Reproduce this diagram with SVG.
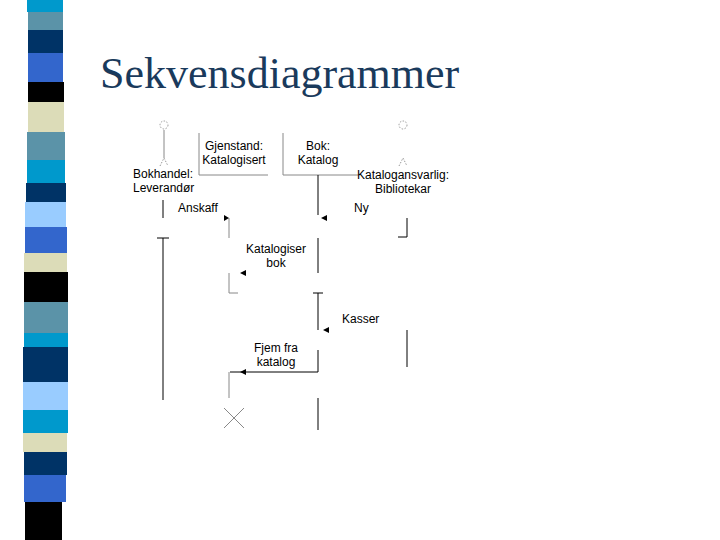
<svg xmlns="http://www.w3.org/2000/svg" width="720" height="540" viewBox="0 0 720 540">
<style>
.t{font-family:"Liberation Sans",Arial,sans-serif;font-size:12px;fill:#000}
.c{text-anchor:middle}
.l{stroke:#000;stroke-width:1;fill:none}
.g{stroke:#888;stroke-width:1;fill:none}
.d{stroke:#999;stroke-width:1;fill:none;stroke-dasharray:1.5 1.5}
</style>
<rect width="720" height="540" fill="#fff"/>
<g id="stripes">
<rect x="27" y="0" width="36" height="12" fill="#0099cc"/>
<rect x="28" y="12" width="35" height="18" fill="#5b93a8"/>
<rect x="28" y="30" width="35" height="23" fill="#003366"/>
<rect x="28" y="53" width="35" height="29" fill="#3366cc"/>
<rect x="28" y="82" width="36" height="20" fill="#000"/>
<rect x="28" y="102" width="36" height="30" fill="#dcdcb8"/>
<rect x="27" y="132" width="38" height="28" fill="#5b93a8"/>
<rect x="27" y="160" width="38" height="23" fill="#0099cc"/>
<rect x="26" y="183" width="40" height="19" fill="#003366"/>
<rect x="25" y="202" width="41" height="25" fill="#99ccff"/>
<rect x="25" y="227" width="42" height="26" fill="#3366cc"/>
<rect x="24" y="253" width="43" height="19" fill="#dcdcb8"/>
<rect x="24" y="272" width="44" height="30" fill="#000"/>
<rect x="24" y="302" width="44" height="31" fill="#5b93a8"/>
<rect x="24" y="333" width="44" height="14" fill="#0099cc"/>
<rect x="23" y="347" width="45" height="35" fill="#003366"/>
<rect x="23" y="382" width="45" height="28" fill="#99ccff"/>
<rect x="23" y="410" width="45" height="23" fill="#0099cc"/>
<rect x="23" y="433" width="44" height="19" fill="#dcdcb8"/>
<rect x="24" y="452" width="43" height="23" fill="#003366"/>
<rect x="24" y="475" width="42" height="27" fill="#3366cc"/>
<rect x="25" y="502" width="37" height="38" fill="#000"/>
</g>
<text x="100" y="88" font-family="Liberation Serif,serif" font-size="44" fill="#1a3a5c">Sekvensdiagrammer</text>
<g id="bokhandel">
<circle cx="164" cy="125" r="4" class="d"/>
<line x1="164" y1="130" x2="164" y2="158" class="g"/>
<path d="M160,166L164,158L168,166" class="d"/>
<text class="t" x="133" y="178">Bokhandel:</text>
<text class="t" x="133" y="192">Leverandør</text>
</g>
<g id="gjenstand">
<path d="M199,133V175H268" class="g"/>
<text class="t c" x="234" y="150">Gjenstand:</text>
<text class="t c" x="234" y="164">Katalogisert</text>
</g>
<g id="bok">
<path d="M283,133V175H358" class="g"/>
<text class="t c" x="318" y="150">Bok:</text>
<text class="t c" x="318" y="164">Katalog</text>
</g>
<g id="katalogansvarlig">
<circle cx="403" cy="125" r="4" class="d"/>
<path d="M399,166L403,158L407,166" class="d"/>
<text class="t c" x="403" y="179">Katalogansvarlig:</text>
<text class="t c" x="403" y="193">Bibliotekar</text>
</g>
<g id="connectors">
<line x1="163" y1="200" x2="163" y2="218" class="l"/>
<path d="M157,238H169M163,238V400" class="l"/>
<path d="M229,218V238" class="g"/>
<path d="M224,215L229,218L224,221z" fill="#000"/>
<path d="M318,175V215" class="l"/>
<path d="M327,215L321,218L327,221z" fill="#000"/>
<path d="M407,218V237H398" class="l"/>
<path d="M318,238V273" class="l"/>
<path d="M246,270L240,273L246,276z" fill="#000"/>
<path d="M229,273V293H238" class="g"/>
<path d="M313,293H323M318,293V330" class="l"/>
<path d="M329,327L323,330L329,333z" fill="#000"/>
<path d="M407,330V367" class="l"/>
<path d="M318,350V372H230" class="l"/>
<path d="M246,369L240,372L246,375z" fill="#000"/>
<path d="M229,372V398" class="g"/>
<path d="M318,398V430" class="l"/>
<path d="M224,408L244,428M244,408L224,428" class="g"/>
</g>
<g id="labels">
<text class="t" x="178" y="212">Anskaff</text>
<text class="t" x="354" y="212">Ny</text>
<text class="t c" x="276" y="253">Katalogiser</text>
<text class="t c" x="276" y="267">bok</text>
<text class="t" x="342" y="323">Kasser</text>
<text class="t c" x="276" y="352">Fjem fra</text>
<text class="t c" x="276" y="366">katalog</text>
</g>
</svg>
